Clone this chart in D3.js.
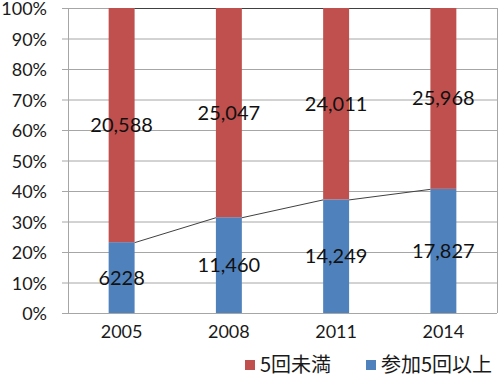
<!DOCTYPE html>
<html><head><meta charset="utf-8">
<script src="https://cdn.jsdelivr.net/npm/d3@7"></script>
<style>body{margin:0;background:#fff}</style>
</head><body>
<svg id="c" width="499" height="377"></svg>
<script>
const years = ["2005","2008","2011","2014"];
const over5 = [6228, 11460, 14249, 17827];
const under5 = [20588, 25047, 24011, 25968];
const overLabels = ["6228","11,460","14,249","17,827"];
const underLabels = ["20,588","25,047","24,011","25,968"];
const yTicks = [0,0.1,0.2,0.3,0.4,0.5,0.6,0.7,0.8,0.9,1];
const seriesNames = ["5回未満","参加5回以上"];
const colors = {under:"#C0504D", over:"#4F81BD"};

const svg = d3.select("#c");
const L=68, R=497, T=8, B=313;
const x = d3.scaleBand().domain(years).range([L,R]).paddingInner(0.758).paddingOuter(0.379);
const y = d3.scaleLinear().domain([0,1]).range([B,T]);
const font = "Lato, 'Noto Sans CJK JP', sans-serif";

// gridlines
svg.append("g").selectAll("line").data(yTicks).join("line")
  .attr("x1",L-6).attr("x2",R).attr("y1",d=>y(d)+0.5).attr("y2",d=>y(d)+0.5)
  .attr("stroke","#a6a6a6").attr("stroke-width",1);
svg.append("line").attr("x1",R+0.5).attr("x2",R+0.5).attr("y1",T).attr("y2",B).attr("stroke","#a6a6a6");
svg.append("line").attr("x1",L+0.5).attr("x2",L+0.5).attr("y1",T).attr("y2",B).attr("stroke","#a6a6a6");

// y tick labels
svg.append("g").selectAll("text").data(yTicks).join("text")
  .attr("x",47).attr("y",d=>y(d)+1).attr("dy","0.35em").attr("text-anchor","end")
  .attr("font-family",font).attr("font-size",18).attr("fill","#1a1a1a")
  .text(d=>Math.round(d*100)+"%");

const data = years.map((yr,i)=>{const tot=over5[i]+under5[i];return {yr,p:over5[i]/tot,i};});

// bars
svg.append("g").selectAll("rect.o").data(data).join("rect")
  .attr("x",d=>x(d.yr)).attr("width",x.bandwidth())
  .attr("y",d=>y(d.p)).attr("height",d=>y(0)-y(d.p)).attr("fill",colors.over);
svg.append("g").selectAll("rect.u").data(data).join("rect")
  .attr("x",d=>x(d.yr)).attr("width",x.bandwidth())
  .attr("y",d=>y(1)).attr("height",d=>y(d.p)-y(1)).attr("fill",colors.under);

// series lines
const segs = [];
for(let i=0;i<data.length-1;i++){
  segs.push([x(data[i].yr)+x.bandwidth(), y(data[i].p), x(data[i+1].yr), y(data[i+1].p)]);
  segs.push([x(data[i].yr)+x.bandwidth(), y(1), x(data[i+1].yr), y(1)]);
}
svg.append("g").selectAll("line").data(segs).join("line")
  .attr("x1",d=>d[0]).attr("y1",d=>d[1]+0.5).attr("x2",d=>d[2]).attr("y2",d=>d[3]+0.5)
  .attr("stroke","#404040").attr("stroke-width",1);

// data labels
svg.append("g").selectAll("text").data(data).join("text")
  .attr("x",d=>x(d.yr)+x.bandwidth()/2).attr("y",d=>(y(d.p)+y(0))/2).attr("dy","0.35em")
  .attr("text-anchor","middle").attr("font-family",font).attr("font-size",20).attr("fill","#111")
  .text(d=>overLabels[d.i]);
svg.append("g").selectAll("text").data(data).join("text")
  .attr("x",d=>x(d.yr)+x.bandwidth()/2).attr("y",d=>(y(d.p)+y(1))/2).attr("dy","0.35em")
  .attr("text-anchor","middle").attr("font-family",font).attr("font-size",20).attr("fill","#111")
  .text(d=>underLabels[d.i]);

// x labels
svg.append("g").selectAll("text").data(years).join("text")
  .attr("x",d=>x(d)+x.bandwidth()/2).attr("y",332).attr("dy","0.35em").attr("text-anchor","middle")
  .attr("font-family",font).attr("font-size",18).attr("fill","#1a1a1a").text(d=>d);

// legend
const leg = [{name:seriesNames[0],c:colors.under,x:245},{name:seriesNames[1],c:colors.over,x:366}];
const lg = svg.append("g").selectAll("g").data(leg).join("g").attr("transform",d=>`translate(${d.x},365)`);
lg.append("rect").attr("x",0).attr("y",-5).attr("width",10).attr("height",10).attr("fill",d=>d.c);
lg.append("text").attr("x",15).attr("y",0).attr("dy","0.35em").attr("font-family","'Noto Sans CJK JP', sans-serif")
  .attr("font-size",20).attr("fill","#1a1a1a").text(d=>d.name);
</script>
</body></html>
